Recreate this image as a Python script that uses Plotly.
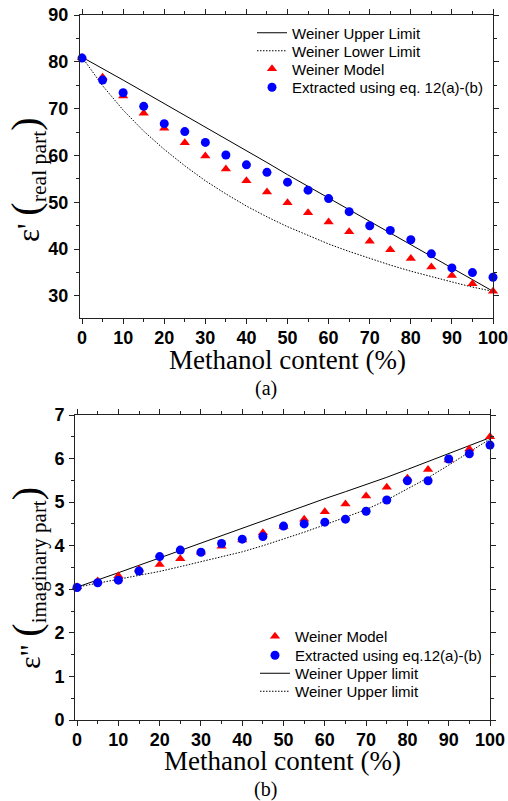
import plotly.graph_objects as go

# ---------------- data ----------------
methanol = [0, 5, 10, 15, 20, 25, 30, 35, 40, 45, 50, 55, 60, 65, 70, 75, 80, 85, 90, 95, 100]

# (a) real part
real_upper = [81.0, 78.6, 76.1, 73.6, 71.1, 68.6, 66.1, 63.6, 61.0, 58.5, 55.9, 53.4, 50.9, 48.4, 45.9, 43.4, 40.9, 38.4, 35.9, 33.4, 31.0]
real_lower = [81.0, 74.9, 69.7, 65.2, 61.3, 57.8, 54.6, 51.8, 49.2, 46.9, 44.8, 42.9, 41.1, 39.5, 38.0, 36.6, 35.3, 34.1, 33.0, 31.9, 31.0]
real_model = [80.9, 76.7, 72.7, 69.0, 65.8, 62.7, 59.9, 57.1, 54.6, 52.2, 49.9, 47.8, 45.8, 43.7, 41.7, 39.9, 38.0, 36.2, 34.4, 32.6, 31.0]
real_extracted = [80.8, 76.1, 73.4, 70.5, 66.8, 65.1, 62.8, 60.1, 58.0, 56.4, 54.3, 52.6, 50.8, 48.0, 45.0, 44.0, 42.0, 39.0, 36.0, 35.0, 34.0]

# (b) imaginary part
imag_upper = [3.05, 3.21, 3.38, 3.55, 3.72, 3.90, 4.07, 4.23, 4.40, 4.57, 4.74, 4.91, 5.08, 5.24, 5.40, 5.57, 5.75, 5.93, 6.11, 6.29, 6.48]
imag_lower = [3.05, 3.14, 3.23, 3.32, 3.41, 3.52, 3.63, 3.74, 3.86, 4.00, 4.15, 4.31, 4.48, 4.65, 4.83, 5.05, 5.30, 5.56, 5.85, 6.14, 6.45]
imag_model = [3.06, 3.19, 3.31, 3.46, 3.57, 3.70, 3.85, 3.99, 4.13, 4.30, 4.44, 4.61, 4.78, 4.96, 5.14, 5.34, 5.55, 5.75, 5.97, 6.22, 6.50]
imag_extracted = [3.04, 3.15, 3.21, 3.42, 3.75, 3.90, 3.85, 4.05, 4.15, 4.21, 4.45, 4.50, 4.54, 4.61, 4.79, 5.05, 5.49, 5.49, 5.99, 6.11, 6.31]

x_ticks = [0, 10, 20, 30, 40, 50, 60, 70, 80, 90, 100]

W, H = 508, 801

def px_x(v):
    return v / W

def px_y(v):
    return 1 - v / H

RED = "#ff0000"
BLUE = "#0000ff"
TRI = 9
CIR = 9
DOT = "1.5px,1.5px"

fig = go.Figure()

# ---- top panel (a) ----
fig.add_trace(go.Scatter(x=methanol, y=real_upper, mode="lines", name="Weiner Upper Limit",
                         line=dict(color="black", width=1), xaxis="x", yaxis="y", legend="legend"))
fig.add_trace(go.Scatter(x=methanol, y=real_lower, mode="lines", name="Weiner Lower Limit",
                         line=dict(color="black", width=1, dash=DOT), xaxis="x", yaxis="y", legend="legend2"))
fig.add_trace(go.Scatter(x=methanol, y=real_model, mode="markers", name="Weiner Model",
                         marker=dict(symbol="triangle-up", size=TRI, color=RED), cliponaxis=False,
                         xaxis="x", yaxis="y", legend="legend3"))
fig.add_trace(go.Scatter(x=methanol, y=real_extracted, mode="markers", name="Extracted using eq. 12(a)-(b)",
                         marker=dict(symbol="circle", size=CIR, color=BLUE), cliponaxis=False,
                         xaxis="x", yaxis="y", legend="legend4"))

# ---- bottom panel (b) ----
fig.add_trace(go.Scatter(x=methanol, y=imag_upper, mode="lines", name="Weiner Upper limit",
                         line=dict(color="black", width=1), xaxis="x2", yaxis="y2", legend="legend7"))
fig.add_trace(go.Scatter(x=methanol, y=imag_lower, mode="lines", name="Weiner Upper limit",
                         line=dict(color="black", width=1, dash=DOT), xaxis="x2", yaxis="y2", legend="legend8"))
fig.add_trace(go.Scatter(x=methanol, y=imag_model, mode="markers", name="Weiner Model",
                         marker=dict(symbol="triangle-up", size=TRI, color=RED), cliponaxis=False,
                         xaxis="x2", yaxis="y2", legend="legend5"))
fig.add_trace(go.Scatter(x=methanol, y=imag_extracted, mode="markers", name="Extracted using eq.12(a)-(b)",
                         marker=dict(symbol="circle", size=CIR, color=BLUE), cliponaxis=False,
                         xaxis="x2", yaxis="y2", legend="legend6"))

tickfont = dict(family="Arial, Liberation Sans", size=18, color="black", weight="bold")
axis_common = dict(showline=True, linecolor="#222", linewidth=1, mirror="allticks",
                   ticks="outside", ticklen=5, tickwidth=1, tickcolor="#222",
                   showgrid=False, zeroline=False, tickfont=tickfont, automargin=False,
                   ticklabeloverflow="allow")

def leg(x, y):
    return dict(x=px_x(x), y=px_y(y), xanchor="left", yanchor="top",
                bgcolor="rgba(0,0,0,0)", borderwidth=0,
                font=dict(family="Arial, Liberation Sans", size=15, color="black"),
                itemwidth=30)

fig.update_layout(
    width=W, height=H,
    margin=dict(l=0, r=0, t=0, b=0),
    paper_bgcolor="white", plot_bgcolor="white",
    xaxis=dict(domain=[px_x(80), px_x(493)], range=[-0.5, 100], tickvals=x_ticks,
               minor=dict(dtick=5, tick0=0, ticklen=3, ticks="outside", tickcolor="#222"),
               anchor="y", ticklabelstandoff=-2, **axis_common),
    yaxis=dict(domain=[px_y(318), px_y(15)], range=[25.3, 90], dtick=10, tick0=0,
               minor=dict(dtick=5, tick0=0, ticklen=3, ticks="outside", tickcolor="#222"),
               anchor="x", ticklabelstandoff=2, **axis_common),
    xaxis2=dict(domain=[px_x(75), px_x(490)], range=[-0.5, 100], tickvals=x_ticks,
                minor=dict(dtick=5, tick0=0, ticklen=3, ticks="outside", tickcolor="#222"),
                anchor="y2", ticklabelstandoff=-2, **axis_common),
    yaxis2=dict(domain=[px_y(720), px_y(415)], range=[0, 7], dtick=1, tick0=0,
                minor=dict(dtick=0.5, tick0=0, ticklen=3, ticks="outside", tickcolor="#222"),
                anchor="x2", ticklabelstandoff=1, **axis_common),
    legend=leg(252, 16.5),
    legend2=leg(252, 34.5),
    legend3=leg(252, 52.5),
    legend4=leg(252, 71),
    legend5=leg(255, 620),
    legend6=leg(255, 639),
    legend7=leg(255, 657),
    legend8=leg(255, 675),
    showlegend=True,
)

serif = "Times New Roman, Liberation Serif, serif"
ann = []
# x-axis titles
ann.append(dict(text="Methanol content (%)", x=px_x(287), y=px_y(360), xref="paper", yref="paper",
                showarrow=False, xanchor="center", yanchor="middle",
                font=dict(family=serif, size=27, color="black")))
ann.append(dict(text="Methanol content (%)", x=px_x(282.5), y=px_y(761), xref="paper", yref="paper",
                showarrow=False, xanchor="center", yanchor="middle",
                font=dict(family=serif, size=27, color="black")))
# panel labels
ann.append(dict(text="(a)", x=px_x(266), y=px_y(388), xref="paper", yref="paper",
                showarrow=False, xanchor="center", yanchor="middle",
                font=dict(family=serif, size=20, color="black")))
ann.append(dict(text="(b)", x=px_x(265), y=px_y(789), xref="paper", yref="paper",
                showarrow=False, xanchor="center", yanchor="middle",
                font=dict(family=serif, size=20, color="black")))
# y-axis titles
ann.append(dict(text="ε' <span style='font-size:40px'>(</span><sub>real part</sub><span style='font-size:40px'>)</span>",
                x=px_x(27), y=px_y(180), xref="paper", yref="paper", textangle=-90,
                showarrow=False, xanchor="center", yanchor="middle",
                font=dict(family=serif, size=31, color="black")))
ann.append(dict(text="ε\" <span style='font-size:40px'>(</span><sub>imaginary part</sub><span style='font-size:40px'>)</span>",
                x=px_x(27), y=px_y(578), xref="paper", yref="paper", textangle=-90,
                showarrow=False, xanchor="center", yanchor="middle",
                font=dict(family=serif, size=30, color="black")))
fig.update_layout(annotations=ann)

fig.write_html("out.html", config={"displayModeBar": False},
               post_script="document.body.style.margin='0px'; document.body.style.overflow='hidden';")
